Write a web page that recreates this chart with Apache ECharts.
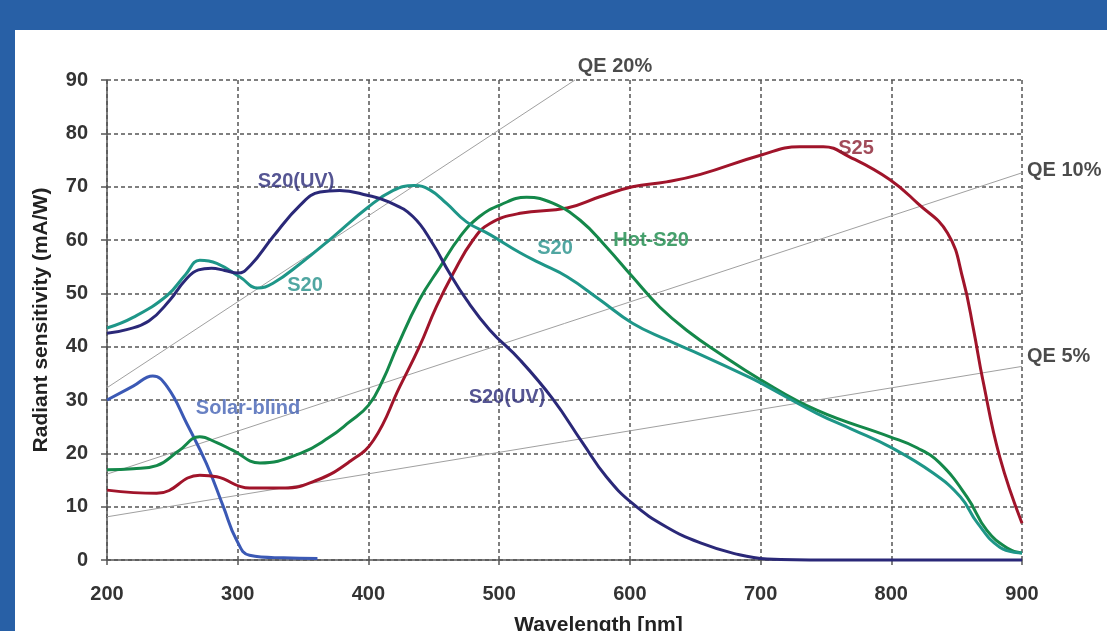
<!DOCTYPE html>
<html>
<head>
<meta charset="utf-8">
<script src="https://cdn.jsdelivr.net/npm/echarts@6/dist/echarts.min.js"></script>
<style>
  html, body { margin:0; padding:0; width:1107px; height:631px; background:#2860a6; overflow:hidden; }
  #chart { position:absolute; left:15px; top:30px; width:1092px; height:601px; background:#ffffff; }
</style>
</head>
<body>
<div id="chart"></div>
<script>
// ---- Data (wavelength nm, radiant sensitivity mA/W) ----
const xTicks = [200, 300, 400, 500, 600, 700, 800, 900];
const yTicks = [0, 10, 20, 30, 40, 50, 60, 70, 80, 90];

const s20uv = [[200,42.5],[215,43.2],[232,44.8],[248,48.7],[260,52.5],[270,54.4],[280,54.7],[290,54.3],[300,53.8],[310,55.3],[327,60.6],[348,66.6],[363,69],[378,69.3],[399,68.4],[416,67.1],[434,64.4],[449,59.4],[462,53.8],[475,48.8],[493,43.1],[516,37.5],[541,30.2],[564,21.9],[582,15.6],[602,10.6],[628,6.2],[654,3.2],[680,1.2],[705,0.2],[750,0],[800,0],[850,0],[900,0]];

const s20 = [[200,43.5],[220,45.5],[246,49.6],[260,53.5],[271,56.2],[284,55.6],[302,53],[315,51],[327,51.9],[348,55.6],[373,60.6],[399,66],[419,69.3],[435,70.2],[447,69.4],[460,66.8],[475,63.4],[493,61],[516,57.6],[531,55.7],[552,53.1],[577,48.8],[602,44.4],[628,41.3],[654,38.5],[692,34.2],[700,33.2],[743,27.5],[770,24.5],[799,21.2],[832,16.3],[853,11.8],[866,6.9],[883,2.4],[900,1.3]];

const hotS20 = [[200,16.9],[220,17.1],[238,17.7],[255,20.5],[271,23.1],[284,22],[296,20.6],[317,18.2],[348,20],[370,23],[385,25.8],[400,29],[411,33.7],[422,40],[439,48.8],[455,55],[470,60.6],[485,64.4],[501,66.6],[521,68],[541,66.9],[562,63.7],[582,58.7],[602,53.1],[623,47.4],[646,42.6],[667,39],[700,33.8],[743,28.1],[799,23.1],[820,21],[837,18.2],[858,11.8],[873,5.6],[889,2.2],[900,1.3]];

const s25 = [[200,13.1],[238,12.5],[271,15.9],[284,15.6],[309,13.5],[335,13.5],[361,15],[386,18.5],[404,22.5],[424,32.5],[439,40],[452,47.5],[465,53.8],[480,60],[493,63.1],[516,65],[552,66],[577,68.1],[602,70],[628,70.9],[654,72.3],[700,75.9],[730,77.5],[748,77.5],[768,75.6],[799,71.3],[820,66.9],[843,61.3],[855,52.5],[863,43.1],[870,33.8],[883,19.3],[900,6.9]];

const solarBlind = [[200,30],[220,32.6],[235,34.5],[246,32.5],[261,25.6],[276,18.1],[289,10],[299,3.8],[309,0.9],[335,0.4],[361,0.3]];

const qe20 = [[200,32.3],[558,90]];
const qe10 = [[200,16.1],[900,72.6]];
const qe5  = [[200,8.1],[900,36.3]];

const annotTexts = ['S20(UV)', 'S20', 'Solar-blind', 'S20', 'Hot-S20', 'S20(UV)', 'S25', 'QE 20%', 'QE 10%', 'QE 5%'];
const annotX     = [344.6, 351.5, 307.9, 542.7, 616.2, 506, 773, 588.6, 900, 900];
const annotY     = [70.9, 51.4, 28.5, 58.5, 60, 30.4, 77.25, 92.6, 73.1, 38.1];

// ---- Styles ----
const annotColors = ['#2a2a78', '#24908a', '#4462b4', '#24908a', '#188a48', '#2a2a78', '#8a1e30', '#1e1e1e', '#1e1e1e', '#1e1e1e'];
const annotPos    = ['inside','inside','inside','inside','inside','inside','inside','inside','right','right'];

const chart = echarts.init(document.getElementById('chart'), null, {renderer: 'canvas'});
const FONT = '"Liberation Sans", Arial, sans-serif';

function curve(name, data, color) {
  return { name, type:'line', data, smooth:0.45, showSymbol:false, symbol:'none',
    lineStyle:{ color, width:3 }, z:5, clip:false, silent:true };
}
function qeLine(data) {
  return { type:'line', data, showSymbol:false, symbol:'none',
    lineStyle:{ color:'#a0a0a0', width:1 }, z:3, clip:false, silent:true };
}

const annotData = annotTexts.map((t, i) => ({
  value:[annotX[i], annotY[i]],
  label:{ show:true, formatter:t, position:annotPos[i], distance:5, color:annotColors[i],
    fontFamily:FONT, fontWeight:'bold', fontSize:20 }
}));

chart.setOption({
  animation:false,
  backgroundColor:'#ffffff',
  grid:{ left:92, top:50, right:85, bottom:71, containLabel:false, outerBoundsMode:'none' },
  xAxis:{
    type:'value', min:xTicks[0], max:xTicks[xTicks.length-1], interval:100,
    name:'Wavelength [nm]', nameLocation:'middle', nameGap:55,
    nameTextStyle:{ fontFamily:FONT, fontWeight:'bold', fontSize:21, color:'#222', padding:[0,0,0,68] },
    axisLine:{ show:true, onZero:false, lineStyle:{ color:'#555', width:1.5 } },
    axisTick:{ show:true, length:5, lineStyle:{ color:'#555', width:1.5 } },
    axisLabel:{ margin:24, fontFamily:FONT, fontWeight:'bold', fontSize:20, color:'#333',
      formatter: v => xTicks.includes(v) ? String(v) : '' },
    splitLine:{ show:true, lineStyle:{ color:'#555', width:1.5, type:[4,3] } }
  },
  yAxis:{
    type:'value', min:yTicks[0], max:yTicks[yTicks.length-1], interval:10,
    name:'Radiant sensitivity (mA/W)', nameLocation:'middle', nameGap:55,
    nameTextStyle:{ fontFamily:FONT, fontWeight:'bold', fontSize:21, color:'#222' },
    axisLine:{ show:true, lineStyle:{ color:'#555', width:1.5 } },
    axisTick:{ show:true, length:6, lineStyle:{ color:'#555', width:1.5 } },
    axisLabel:{ margin:19, fontFamily:FONT, fontWeight:'bold', fontSize:20, color:'#333',
      formatter: v => yTicks.includes(v) ? String(v) : '' },
    splitLine:{ show:true, lineStyle:{ color:'#555', width:1.5, type:[4,3] } }
  },
  series:[
    qeLine(qe20), qeLine(qe10), qeLine(qe5),
    curve('Solar-blind', solarBlind, '#3b59b5'),
    curve('S25', s25, '#a0142a'),
    curve('Hot-S20', hotS20, '#14884a'),
    curve('S20', s20, '#1e9688'),
    curve('S20(UV)', s20uv, '#2a2878'),
    { type:'scatter', data:annotData, symbolSize:0, z:10, clip:false, silent:true }
  ]
});
</script>
</body>
</html>
